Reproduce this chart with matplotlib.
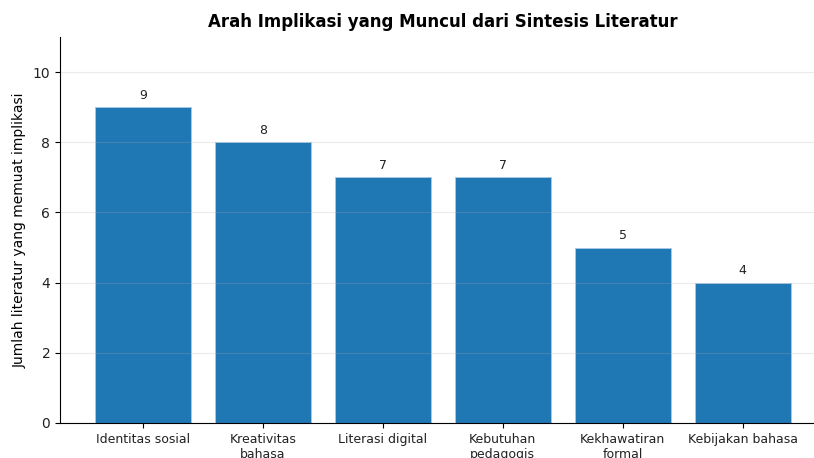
import matplotlib
matplotlib.use("Agg")
import matplotlib.pyplot as plt

categories = ["Identitas sosial", "Kreativitas\nbahasa", "Literasi digital",
              "Kebutuhan\npedagogis", "Kekhawatiran\nformal", "Kebijakan bahasa"]
values = [9, 8, 7, 7, 5, 4]

plt.rcParams["text.color"] = "#222222"
plt.rcParams["xtick.labelcolor"] = "#222222"
plt.rcParams["ytick.labelcolor"] = "#222222"

fig = plt.figure(figsize=(8.14, 4.58), dpi=100)
ax = fig.add_axes([60/814, 35/458, 765.6/814, 386/458])

x = list(range(len(categories)))
ax.bar(x, values, width=0.8, color="#1f77b4", edgecolor="#a9cbe6", linewidth=0.6)
for xi, v in zip(x, values):
    ax.annotate(str(v), (xi, v), xytext=(0, 4), textcoords="offset points",
                ha="center", va="bottom", fontsize=9)

ax.set_xticks(x)
ax.set_xticklabels(categories, fontsize=9)
ax.set_xlim(-0.69, 5.69)
ax.set_ylim(0, 11)
ax.set_yticks([0, 2, 4, 6, 8, 10])
ax.tick_params(axis="y", labelsize=10)
ax.yaxis.grid(True, color="#b0b0b0", alpha=0.25, linewidth=0.8)
ax.set_ylabel("Jumlah literatur yang memuat implikasi", fontsize=10)
ax.spines["top"].set_visible(False)
ax.spines["right"].set_visible(False)
fig.text(443/814, 1 - 22/458, "Arah Implikasi yang Muncul dari Sintesis Literatur",
         ha="center", va="center", fontsize=12, fontweight="bold", color="black")

fig.savefig("out.png", dpi=100)
